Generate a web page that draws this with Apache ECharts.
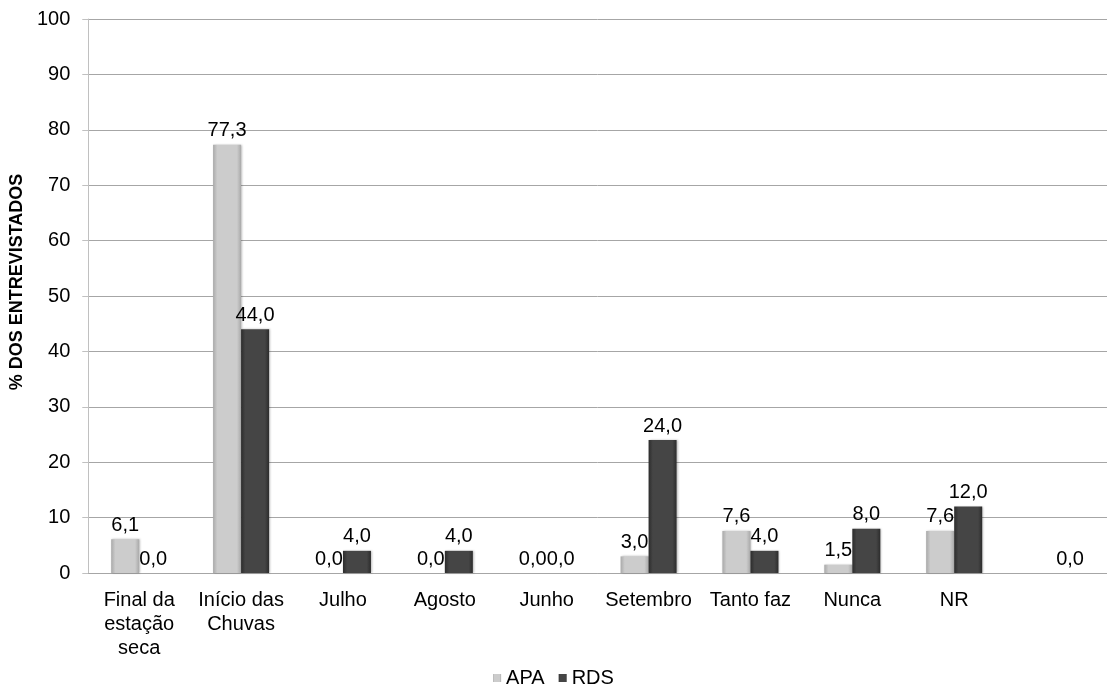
<!DOCTYPE html>
<html>
<head>
<meta charset="utf-8">
<script src="https://cdn.jsdelivr.net/npm/echarts@6/dist/echarts.min.js"></script>
<style>
  html, body { margin: 0; padding: 0; background: #fff; }
  #chart { width: 1107px; height: 695px; }
</style>
</head>
<body>
<div id="chart"></div>
<script>
// Categories and percentages per group
const categories = [
  'Final da\nestação\nseca',
  'Início das\nChuvas',
  'Julho',
  'Agosto',
  'Junho',
  'Setembro',
  'Tanto faz',
  'Nunca',
  'NR',
  ''
];
const apaValues = [6.1, 77.3, 0.0, 0.0, 0.0, 3.0, 7.6, 1.5, 7.6, null];
const rdsValues = [0.0, 44.0, 4.0, 4.0, 0.0, 24.0, 4.0, 8.0, 12.0, 0.0];
const yTicks = { min: 0, max: 100, interval: 10 };

const font = 'Liberation Sans, Arial, sans-serif';

// Horizontal gradient gives the bars a bevelled look
function bevel(edge, mid) {
  return {
    type: 'linear', x: 0, y: 0, x2: 1, y2: 0,
    colorStops: [
      { offset: 0, color: edge },
      { offset: 0.15, color: mid },
      { offset: 0.85, color: mid },
      { offset: 1, color: edge }
    ]
  };
}

const labelFmt = p => p.value == null ? '' : p.value.toFixed(1).replace('.', ',');

const valueLabel = {
  show: true,
  position: 'top',
  distance: 4,
  color: '#000',
  fontSize: 20,
  fontFamily: font,
  formatter: labelFmt
};

const chart = echarts.init(document.getElementById('chart'), null, { renderer: 'canvas' });
chart.setOption({
  animation: false,
  textStyle: { fontFamily: font },
  grid: { left: 88, right: 0, top: 19, bottom: 122 },
  legend: {
    bottom: 2,
    left: 'center',
    itemWidth: 8,
    itemHeight: 8,
    itemGap: 14,
    icon: 'rect',
    textStyle: { fontSize: 20, color: '#000', fontFamily: font },
    data: ['APA', 'RDS']
  },
  xAxis: {
    type: 'category',
    data: categories,
    axisLine: { show: true, lineStyle: { color: '#a6a6a6', width: 1 } },
    axisTick: { show: false },
    axisLabel: {
      color: '#000',
      fontSize: 20,
      lineHeight: 24,
      margin: 15,
      interval: 0,
      fontFamily: font
    }
  },
  yAxis: {
    type: 'value',
    min: yTicks.min,
    max: yTicks.max,
    interval: yTicks.interval,
    name: '% DOS ENTREVISTADOS',
    nameLocation: 'middle',
    nameGap: 60,
    nameRotate: 90,
    nameTextStyle: {
      fontSize: 18,
      fontWeight: 'bold',
      color: '#000',
      fontFamily: font,
      padding: [0, 0, 0, 28]
    },
    axisLine: { show: true, lineStyle: { color: '#c0c0c0', width: 1 } },
    axisTick: { show: true, length: 6, lineStyle: { color: '#c0c0c0' } },
    axisLabel: { color: '#000', fontSize: 20, margin: 18, fontFamily: font },
    splitLine: { show: true, lineStyle: { color: '#a6a6a6', width: 1 } }
  },
  series: [
    {
      name: 'APA',
      type: 'bar',
      data: apaValues,
      barGap: '0%',
      barCategoryGap: '45%',
      itemStyle: {
        color: bevel('#a9a9a9', '#cccccc'),
        borderWidth: 0,
        shadowColor: 'rgba(0,0,0,0.25)',
        shadowBlur: 2,
        shadowOffsetX: 1,
        shadowOffsetY: 0
      },
      label: valueLabel
    },
    {
      name: 'RDS',
      type: 'bar',
      data: rdsValues,
      barGap: '0%',
      barCategoryGap: '45%',
      itemStyle: {
        color: bevel('#2c2c2c', '#454545'),
        borderWidth: 0,
        shadowColor: 'rgba(0,0,0,0.25)',
        shadowBlur: 2,
        shadowOffsetX: 1,
        shadowOffsetY: 0
      },
      label: valueLabel
    }
  ]
});
</script>
</body>
</html>
